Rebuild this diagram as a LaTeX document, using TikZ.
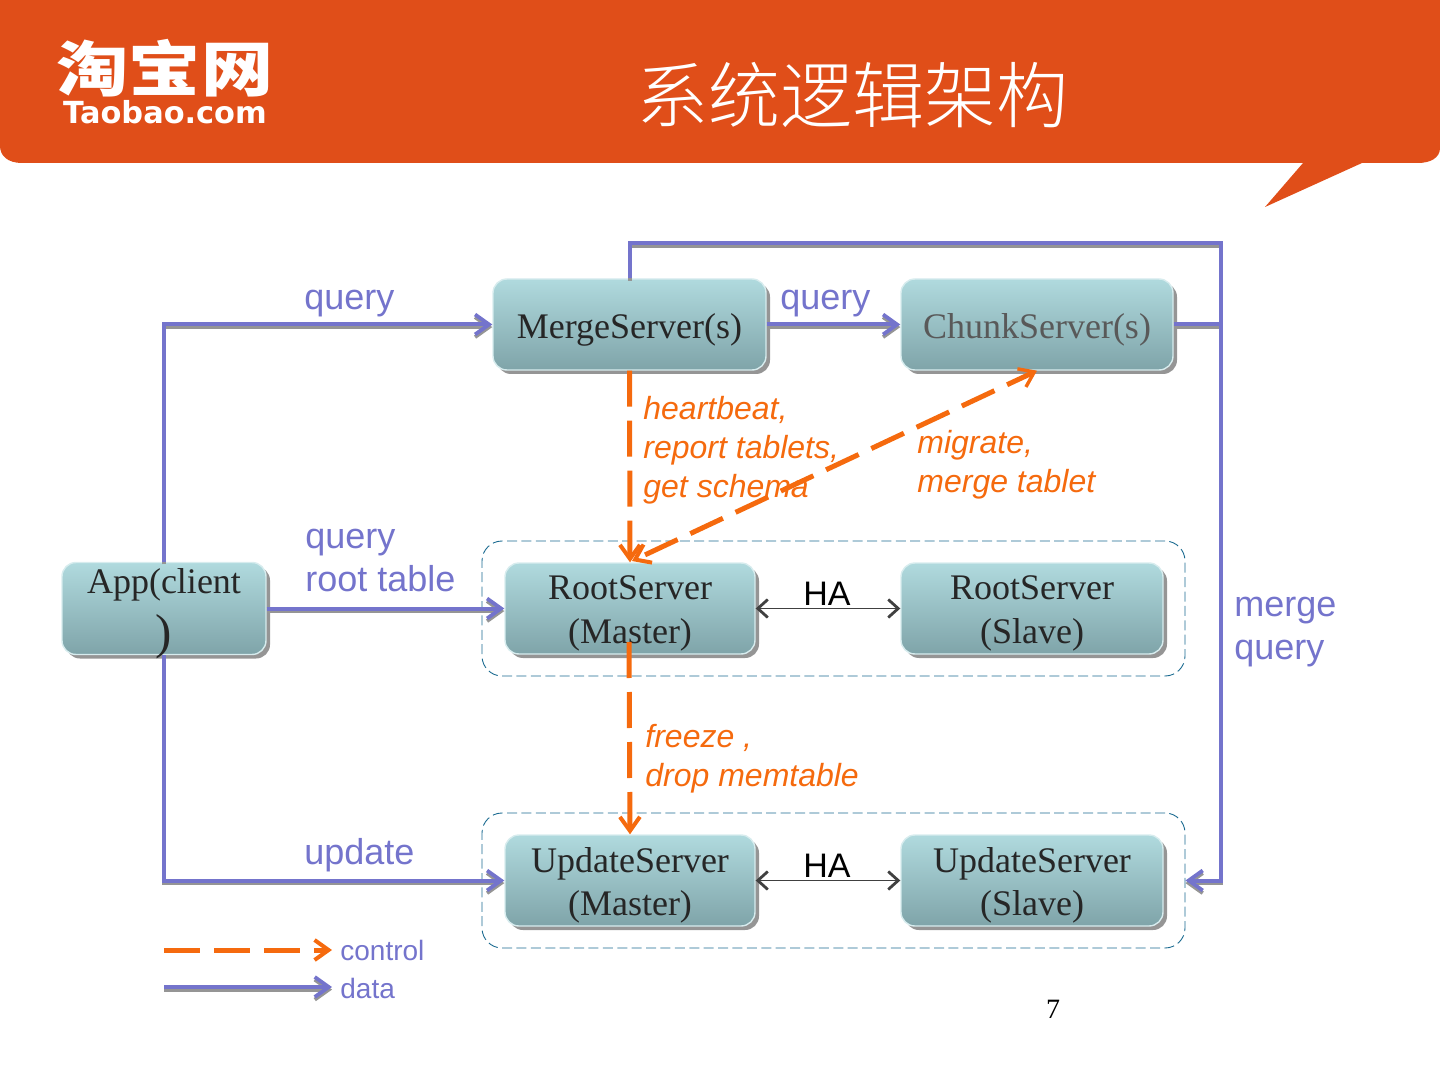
\documentclass[tikz,border=0pt]{standalone}
\usepackage{fontspec}
\setmainfont{Liberation Serif}
\setsansfont{Liberation Sans}
\newfontfamily\cjkfont{Noto Sans CJK SC Light}
\newfontfamily\cjkbold{Noto Sans CJK SC Black}
\newfontfamily\logofont{DejaVu Sans Bold}
\usetikzlibrary{arrows.meta,shadows,calc}
\definecolor{hdr}{HTML}{E04E19}
\definecolor{boxtop}{HTML}{B0DADE}
\definecolor{boxbot}{HTML}{7FA4A9}
\definecolor{dataline}{HTML}{7474CC}
\definecolor{ctrl}{HTML}{F56A0E}
\definecolor{shad}{HTML}{959595}
\definecolor{grp}{HTML}{1A6A90}
\newcommand{\srvtext}[1]{\makebox[0pt]{\raisebox{-2.5pt}[\height][\depth]{\parbox{124pt}{\centering #1}}}}
\tikzset{
  srv/.style={draw=boxtop!50!white,line width=0.7pt,rounded corners=7pt,top color=boxtop,bottom color=boxbot,
    general shadow={shadow xshift=2pt,shadow yshift=-2pt,fill=shad},
    inner sep=0pt,text=black!85,font=\rmfamily\fontsize{18}{21.8}\selectfont},
  lbl/.style={anchor=base west,inner sep=0pt,align=left,text=dataline,font=\sffamily\fontsize{18}{21.3}\selectfont},
  ctl/.style={anchor=base west,inner sep=0pt,align=left,text=ctrl,font=\sffamily\itshape\fontsize{16}{19.3}\selectfont},
  ha/.style={anchor=base west,inner sep=0pt,text=black,font=\sffamily\fontsize{17}{20}\selectfont},
  leg/.style={anchor=base west,inner sep=0pt,text=dataline,font=\sffamily\fontsize{14}{16}\selectfont},
  grpbox/.style={draw=grp,line width=0.45pt,dash pattern=on 5pt off 2.2pt,rounded corners=10pt,inner sep=0pt},
  datashadow/.style={draw=shad,line width=2pt,transform canvas={yshift=-1.3pt}},
  dataflow/.style={dataline,line width=2pt},
  tipbarb/.style={-{Straight Barb[length=7pt,width=10pt,line width=1.9pt]}},
  ctlflow/.style={ctrl,line width=2.5pt,dash pattern=on 18pt off 7pt,-{Straight Barb[length=7pt,width=10pt,line width=2pt]}},
  ctlboth/.style={ctrl,line width=2.5pt,dash pattern=on 18pt off 7pt,dash phase=20.5pt,
     {Straight Barb[length=7pt,width=10pt,line width=2pt]}-{Straight Barb[length=7pt,width=10pt,line width=1.7pt]}},
  haflow/.style={black!75,line width=0.7pt,{Straight Barb[length=5pt,width=9pt,line width=1.4pt]}-{Straight Barb[length=5pt,width=9pt,line width=1.4pt]}},
}
\begin{document}
\begin{tikzpicture}[x=0.5pt,y=-0.5pt]
\useasboundingbox (0,0) rectangle (1440,1080);
% header
\fill[hdr] (0,0) -- (1440,0) -- (1440,148) .. controls (1440,158) and (1430,163) .. (1418,163) -- (1362,163) -- (1265,207) -- (1303,163) -- (22,163) .. controls (8,163) and (0,156) .. (0,146) -- cycle;
\node[inner sep=0pt,text=white,font=\cjkfont\fontsize{36}{36}\selectfont] (title) at (852,95) {系统逻辑架构};
\node[inner sep=0pt,text=white,transform shape,xscale=1.03,yscale=0.86,font=\cjkbold\fontsize{35}{36}\selectfont] (logocn) at (165,68) {淘宝网};
\node[inner sep=0pt,text=white,font=\logofont\fontsize{15.2}{18}\selectfont] (logoen) at (165,112) {Taobao.com};
% groups
\node[grpbox,minimum width=351.5pt,minimum height=67.5pt] (rg) at (833.5,608.5) {};
\node[grpbox,minimum width=351.5pt,minimum height=67.5pt] (ug) at (833.5,880.5) {};
% labels under lines
\node[ctl] (l1) at (643,497) {heartbeat,\\report tablets,\\get schema};
\node[ctl] (l2) at (917,492) {migrate,\\merge tablet};
% boxes
\node[srv,minimum width=136.5pt,minimum height=45.5pt] (merge) at (629.5,324.5) {\srvtext{MergeServer(s)}};
\node[srv,minimum width=136pt,minimum height=45.5pt,text=black!65] (chunk) at (1037,324.5) {\srvtext{ChunkServer(s)}};
\node[srv,minimum width=125pt,minimum height=45.5pt] (rm) at (630,608.5) {\srvtext{RootServer\\(Master)}};
\node[srv,minimum width=131pt,minimum height=45.5pt] (rs) at (1032,608.5) {\srvtext{RootServer\\(Slave)}};
\node[srv,minimum width=125pt,minimum height=45.5pt] (um) at (630,880.5) {\srvtext{UpdateServer\\(Master)}};
\node[srv,minimum width=131pt,minimum height=45.5pt] (us) at (1032,880.5) {\srvtext{UpdateServer\\(Slave)}};
\node[srv,minimum width=102pt,minimum height=46pt,font=\rmfamily\fontsize{18}{27.5}\selectfont] (app) at (164,608.5) {\srvtext{App(client\\{\fontsize{24.5}{27.5}\selectfont )}}};
% helper coordinates
\coordinate (mt) at (629,243);
\coordinate (rt) at (1221,243);
\coordinate (leg1a) at (164,950);
\coordinate (leg1b) at (332,950);
\coordinate (leg2a) at (164,987);
\coordinate (leg2b) at (332,987);
\coordinate (rmlow) at (629,642);
\coordinate (rmup) at (632,561);
% data shadows
\draw[datashadow,tipbarb] (app.north) |- (merge.west);
\draw[datashadow,tipbarb] (app.south) |- (um.west);
\draw[datashadow,tipbarb] (app.east) -- (rm.west);
\draw[datashadow,tipbarb] (merge.east) -- (chunk.west);
\draw[datashadow,tipbarb] (merge.north) |- (rt) -- (rt |- ug.east) -- (ug.east);
\draw[datashadow] (chunk.east) -- (chunk.east -| rt);
\draw[datashadow,tipbarb] (leg2a) -- (leg2b);
% data
\draw[dataflow,tipbarb] (app.north) |- (merge.west);
\draw[dataflow,tipbarb] (app.south) |- (um.west);
\draw[dataflow,tipbarb] (app.east) -- (rm.west);
\draw[dataflow,tipbarb] (merge.east) -- (chunk.west);
\draw[dataflow,tipbarb] (merge.north) |- (rt) -- (rt |- ug.east) -- (ug.east);
\draw[dataflow] (chunk.east) -- (chunk.east -| rt);
\draw[dataflow,tipbarb] (leg2a) -- (leg2b);
% control
\draw[ctlflow] (merge.south) -- (rm.north);
\draw[ctlboth] (rmup) -- (chunk.south);
\draw[ctlflow] (rmlow) -- (um.north);
\draw[ctlflow] (leg1a) -- (leg1b);
% HA
\draw[haflow] (rm.east) -- (rs.west);
\draw[haflow] (um.east) -- (us.west);
\node[ha] (ha1) at (803,605) {HA};
\node[ha] (ha2) at (803,877) {HA};
% labels
\node[lbl] (q1) at (304,310) {query};
\node[lbl] (q2) at (780,310) {query};
\node[lbl] (q3) at (305,591) {query\\root table};
\node[lbl] (q4) at (1234,659) {merge\\query};
\node[lbl] (q5) at (304,864) {update};
\node[ctl] (l3) at (645,786) {freeze ,\\drop memtable};
\node[leg] (c1) at (340,960) {control};
\node[leg] (c2) at (340,998) {data};
\node[inner sep=0pt,anchor=base,font=\rmfamily\fontsize{14}{16}\selectfont] (pg) at (1053,1018) {7};
\end{tikzpicture}
\end{document}
